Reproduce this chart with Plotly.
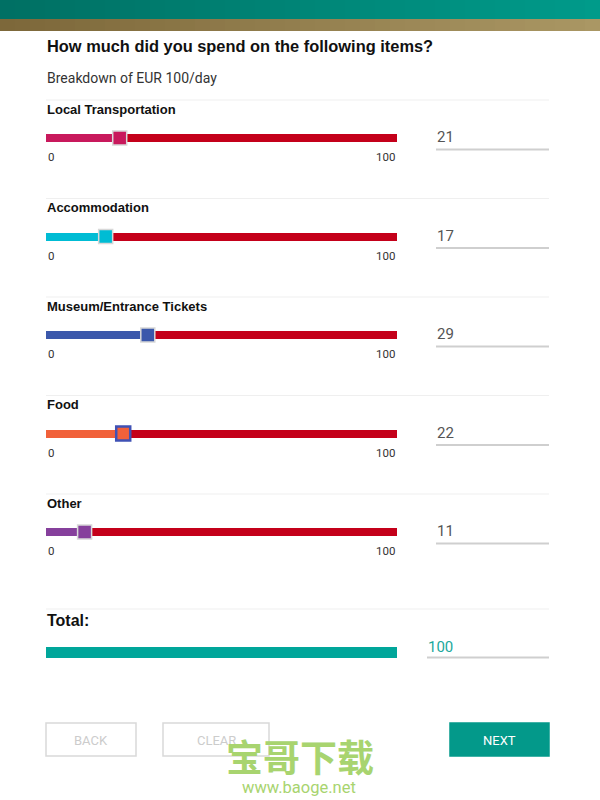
import plotly.graph_objects as go

# ---- data ----
categories = ["Local Transportation", "Accommodation", "Museum/Entrance Tickets", "Food", "Other"]
values = [21, 17, 29, 22, 11]
slider_min = 0
slider_max = 100
fill_colors = ["#c8195c", "#00bcd4", "#3b58ab", "#f1613a", "#86409c"]
title_text = "How much did you spend on the following items?"
subtitle_text = "Breakdown of EUR 100/day"
total_label = "Total:"
buttons = ["BACK", "CLEAR", "NEXT"]

# ---- layout geometry (pixels) ----
W, H = 600, 800
X0_PX, X1_PX = 46, 397          # slider track 0..100
SCALE = (X1_PX - X0_PX) / (slider_max - slider_min)
xr = [slider_min - X0_PX / SCALE, slider_min + (W - X0_PX) / SCALE]
track_red = "#c4001a"
teal = "#00a69a"
row_y0, row_dy = 138, 98.5
HEAD_FONT = "Liberation Sans"

def px(x):
    return x / W

fig = go.Figure()
shapes = []
ann = []

# header bands
n = 40
for i in range(n):
    t = i / (n - 1)
    def mix(a, b):
        return "rgb(%d,%d,%d)" % tuple(int(a[k] + (b[k] - a[k]) * t) for k in range(3))
    shapes.append(dict(type="rect", xref="paper", yref="y", x0=i / n, x1=(i + 1) / n + 0.002,
                       y0=0, y1=19, fillcolor=mix((0, 112, 100), (0, 155, 138)), line_width=0, layer="below"))
    shapes.append(dict(type="rect", xref="paper", yref="y", x0=i / n, x1=(i + 1) / n + 0.002,
                       y0=19, y1=31, fillcolor=mix((125, 104, 58), (170, 151, 100)), line_width=0, layer="below"))

ann.append(dict(text="<b>" + title_text + "</b>", x=px(45), y=46, xref="paper", yref="y",
                xanchor="left", yanchor="middle", showarrow=False,
                font=dict(size=16.4, color="#111", family=HEAD_FONT)))
ann.append(dict(text=subtitle_text, x=px(45), y=78, xref="paper", yref="y",
                xanchor="left", yanchor="middle", showarrow=False,
                font=dict(size=14, color="#333", family="Roboto")))

for i, (cat, v, col) in enumerate(zip(categories, values, fill_colors)):
    cy = row_y0 + i * row_dy
    # separator
    shapes.append(dict(type="line", xref="paper", yref="y", x0=px(46), x1=px(549),
                       y0=cy - 38, y1=cy - 38, line=dict(color="#efefef", width=1)))
    ann.append(dict(text="<b>" + cat + "</b>", x=px(45), y=cy - 29, xref="paper", yref="y",
                    xanchor="left", yanchor="middle", showarrow=False,
                    font=dict(size=13, color="#111", family=HEAD_FONT)))
    # filled part
    fig.add_trace(go.Bar(x=[v - slider_min], base=[slider_min], y=[cy], orientation="h", width=8,
                         marker=dict(color=col, line_width=0), showlegend=False, hoverinfo="skip"))
    # remaining track
    fig.add_trace(go.Bar(x=[slider_max - v], base=[v], y=[cy], orientation="h", width=8,
                         marker=dict(color=track_red, line_width=0), showlegend=False, hoverinfo="skip"))
    # thumb
    border = "#3f51b5" if cat == "Food" else "#d8d8d8"
    fig.add_trace(go.Scatter(x=[v], y=[cy], mode="markers", showlegend=False, hoverinfo="skip",
                             marker=dict(symbol="square", size=14, color=col,
                                         line=dict(color=border, width=1.5 if cat != "Food" else 2.5))))
    # tick labels
    ann.append(dict(text=str(slider_min), x=slider_min, y=cy + 19, xref="x", yref="y",
                    xanchor="left", yanchor="middle", showarrow=False,
                    font=dict(size=11.5, color="#333", family="Roboto")))
    ann.append(dict(text=str(slider_max), x=slider_max, y=cy + 19, xref="x", yref="y",
                    xanchor="right", yanchor="middle", showarrow=False,
                    font=dict(size=11.5, color="#333", family="Roboto")))
    # value box
    ann.append(dict(text=str(v), x=px(435), y=cy - 1, xref="paper", yref="y",
                    xanchor="left", yanchor="middle", showarrow=False,
                    font=dict(size=15, color="#555", family="Roboto")))
    shapes.append(dict(type="line", xref="paper", yref="y", x0=px(436), x1=px(549),
                       y0=cy + 11.5, y1=cy + 11.5, line=dict(color="#cfcfcf", width=2)))

# total
total = sum(values)
shapes.append(dict(type="line", xref="paper", yref="y", x0=px(46), x1=px(549),
                   y0=609, y1=609, line=dict(color="#efefef", width=1)))
ann.append(dict(text="<b>" + total_label + "</b>", x=px(45), y=620, xref="paper", yref="y",
                xanchor="left", yanchor="middle", showarrow=False,
                font=dict(size=16, color="#111", family=HEAD_FONT)))
fig.add_trace(go.Bar(x=[total], base=[0], y=[652.5], orientation="h", width=11,
                     marker=dict(color=teal, line_width=0), showlegend=False, hoverinfo="skip"))
ann.append(dict(text=str(total), x=px(426), y=647, xref="paper", yref="y",
                xanchor="left", yanchor="middle", showarrow=False,
                font=dict(size=15, color="#1aa89c", family="Roboto")))
shapes.append(dict(type="line", xref="paper", yref="y", x0=px(427), x1=px(549),
                   y0=657.5, y1=657.5, line=dict(color="#cfcfcf", width=2)))

# buttons
btn_boxes = [(46, 136), (163, 269), (450, 549)]
for name, (bx0, bx1) in zip(buttons, btn_boxes):
    is_next = name == "NEXT"
    shapes.append(dict(type="rect", xref="paper", yref="y", x0=px(bx0), x1=px(bx1), y0=723, y1=756,
                       fillcolor="#03998a" if is_next else "white",
                       line=dict(color="#03998a" if is_next else "#d9d9d9", width=1.5)))
    ann.append(dict(text=name, x=px((bx0 + bx1) / 2), y=740, xref="paper", yref="y",
                    xanchor="center", yanchor="middle", showarrow=False,
                    font=dict(size=13, color="white" if is_next else "#cccccc", family="Roboto")))

# watermark
ann.append(dict(text="<b>宝哥下载</b>", x=px(300), y=756, xref="paper", yref="y",
                xanchor="center", yanchor="middle", showarrow=False,
                font=dict(size=37, color="#a8d46f", family="Noto Sans CJK SC")))
ann.append(dict(text="www.baoge.net", x=px(299), y=787, xref="paper", yref="y",
                xanchor="center", yanchor="middle", showarrow=False,
                font=dict(size=16.5, color="#a8d46f", family="Roboto")))

fig.update_layout(
    width=W, height=H, margin=dict(l=0, r=0, t=0, b=0),
    paper_bgcolor="white", plot_bgcolor="white",
    barmode="overlay", bargap=0,
    xaxis=dict(range=xr, visible=False, fixedrange=True),
    yaxis=dict(range=[H, 0], visible=False, fixedrange=True),
    shapes=shapes, annotations=ann,
)
fig.write_html("out.html", config={"displayModeBar": False},
               post_script="document.body.style.margin='0';document.body.style.overflow='hidden';")
